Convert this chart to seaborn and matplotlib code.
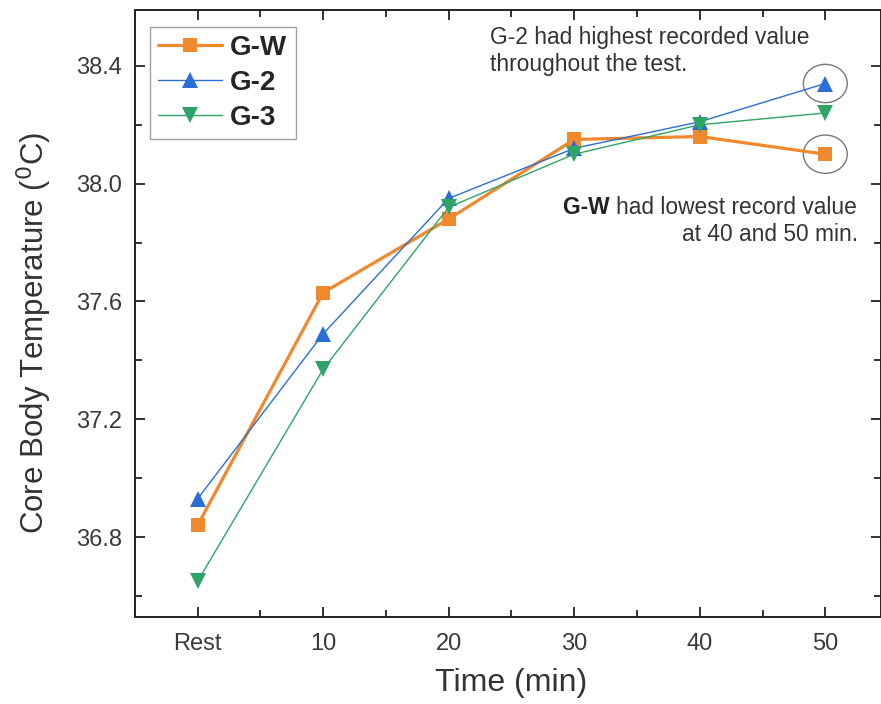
import matplotlib
matplotlib.use('Agg')
import matplotlib.pyplot as plt
from matplotlib.patches import Ellipse
from matplotlib.ticker import MultipleLocator, FixedLocator
import seaborn as sns
import pandas as pd

# data
time_labels = ['Rest', '10', '20', '30', '40', '50']
gw = [36.84, 37.63, 37.88, 38.15, 38.16, 38.10]
g2 = [36.93, 37.49, 37.95, 38.12, 38.21, 38.34]
g3 = [36.65, 37.37, 37.92, 38.10, 38.20, 38.24]

sns.set_style('white')
plt.rcParams['font.family'] = ['Liberation Sans', 'DejaVu Sans']

fig = plt.figure(figsize=(8.81, 7.04), dpi=100)
ax = fig.add_axes([0.153, 0.124, 0.8465, 0.862])

pos = list(range(len(time_labels)))
series = [
    ('G-W', gw, '#F0892E', 's', 2.3, 10),
    ('G-2', g2, '#2A6ED6', '^', 1.0, 12),
    ('G-3', g3, '#2FA466', 'v', 1.0, 12),
]
for name, vals, col, mk, lw, ms in series:
    df = pd.DataFrame({'x': pos, 'y': vals})
    sns.lineplot(data=df, x='x', y='y', ax=ax, color=col, marker=mk,
                 linewidth=lw, markersize=ms, markeredgewidth=0, label=name)

ax.set_xlim(-0.5, 5.44)
ax.set_ylim(36.53, 38.59)
ax.xaxis.set_major_locator(FixedLocator(pos))
ax.set_xticklabels(time_labels)
ax.xaxis.set_minor_locator(MultipleLocator(0.5))
ax.yaxis.set_major_locator(MultipleLocator(0.4))
ax.yaxis.set_minor_locator(MultipleLocator(0.2))
ax.tick_params(which='both', direction='in', left=True, bottom=True, top=True, right=True,
               color='#222222', width=1.3, labelcolor='#3a3a3a', labelsize=17)
ax.tick_params(axis='x', pad=12)
ax.tick_params(axis='y', pad=9)
ax.tick_params(which='major', length=7)
ax.tick_params(which='minor', length=5)
for sp in ax.spines.values():
    sp.set_color('#222222')
    sp.set_linewidth(1.4)

ax.set_xlabel('Time (min)', fontsize=23, color='#333333')
ax.set_ylabel(r'Core Body Temperature ($^0$C)', fontsize=22.5, color='#333333')
ax.yaxis.set_label_coords(-0.109, 0.468)
ax.xaxis.set_label_coords(0.505, -0.085)

leg = ax.legend(loc='upper left', bbox_to_anchor=(0.02, 0.972), frameon=True,
                fancybox=False, edgecolor='#888888', handlelength=2.3, handletextpad=0.3,
                prop={'weight': 'bold', 'size': 20}, borderpad=0.3, labelspacing=0.32,
                borderaxespad=0.0)
leg.get_frame().set_linewidth(1.0)

# annotation circles around the 50 min points
for v in [g2[5], gw[5]]:
    ax.add_patch(Ellipse((5, v), 0.35, 0.13, fill=False, edgecolor='#777777', linewidth=1.0))

ax.text(2.33, 38.495, 'G-2 had highest recorded value', fontsize=16.4,
        color='#333333', ha='left', va='center')
ax.text(2.33, 38.403, 'throughout the test.', fontsize=16.4,
        color='#333333', ha='left', va='center')
t1 = ax.text(5.25, 37.919, 'had lowest record value', fontsize=16.4, color='#333333',
             ha='right', va='center')
ax.annotate('G-W ', xy=(0, 0.5), xycoords=t1, fontsize=16.4, fontweight='bold',
            color='#222222', ha='right', va='center')
ax.text(5.26, 37.828, 'at 40 and 50 min.', fontsize=16.4, color='#333333',
        ha='right', va='center')

fig.savefig('out.png', dpi=100)
